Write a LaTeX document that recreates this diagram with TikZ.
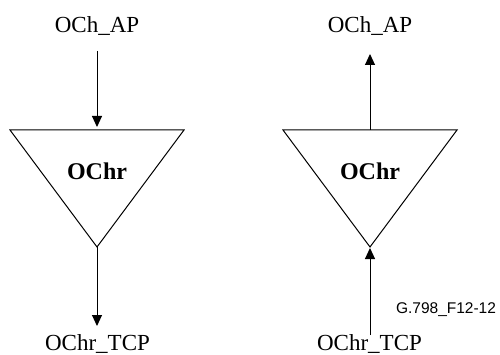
\documentclass[tikz,border=0pt]{standalone}
\usepackage{fontspec}
\setmainfont{Liberation Serif}
\newfontfamily\arialfont{Liberation Sans}
\usetikzlibrary{arrows.meta}
\begin{document}
\begin{tikzpicture}[x=1pt,y=-1pt,
  lbl/.style={font=\fontsize{23}{23}\selectfont, inner sep=0pt, anchor=base},
  blk/.style={font=\bfseries\fontsize{24}{24}\selectfont, inner sep=0pt, anchor=base},
  fig/.style={font=\arialfont\fontsize{15.5}{15.5}\selectfont, inner sep=0pt, anchor=base},
  conn/.style={line width=1pt, -{Triangle[length=11pt,width=10pt]}},
  tri/.style={line width=1pt, line join=miter}]
\useasboundingbox (0,0) rectangle (500,355);
% left block
\coordinate (L1) at (10,130);
\coordinate (L2) at (184,130);
\coordinate (L3) at (97,247);
\draw[tri] (L1) -- (L2) -- (L3) -- cycle;
\node[blk] (lblk) at (97,180) {OChr};
\node[lbl] (ltop) at (97,33) {OCh\_AP};
\node[lbl] (lbot) at (97.5,350) {OChr\_TCP};
\coordinate (la) at (97,51);
\coordinate (lin) at (97,127);
\coordinate (lout) at (97,326);
\draw[conn] (la) -- (lin);
\draw[conn] (L3) -- (lout);
% right block
\coordinate (R1) at (283,130);
\coordinate (R2) at (457,130);
\coordinate (R3) at (370,247);
\draw[tri] (R1) -- (R2) -- (R3) -- cycle;
\node[blk] (rblk) at (370,180) {OChr};
\node[lbl] (rtop) at (370,33) {OCh\_AP};
\node[lbl] (rbot) at (369.5,350) {OChr\_TCP};
\coordinate (rtopedge) at (370,130);
\coordinate (rout) at (370,54);
\coordinate (rb) at (370,335);
\coordinate (rin) at (370,248);
\draw[conn] (rtopedge) -- (rout);
\draw[conn] (rb) -- (rin);
% figure id
\node[fig] (figid) at (446,313) {G.798\_F12-12};
\end{tikzpicture}
\end{document}
